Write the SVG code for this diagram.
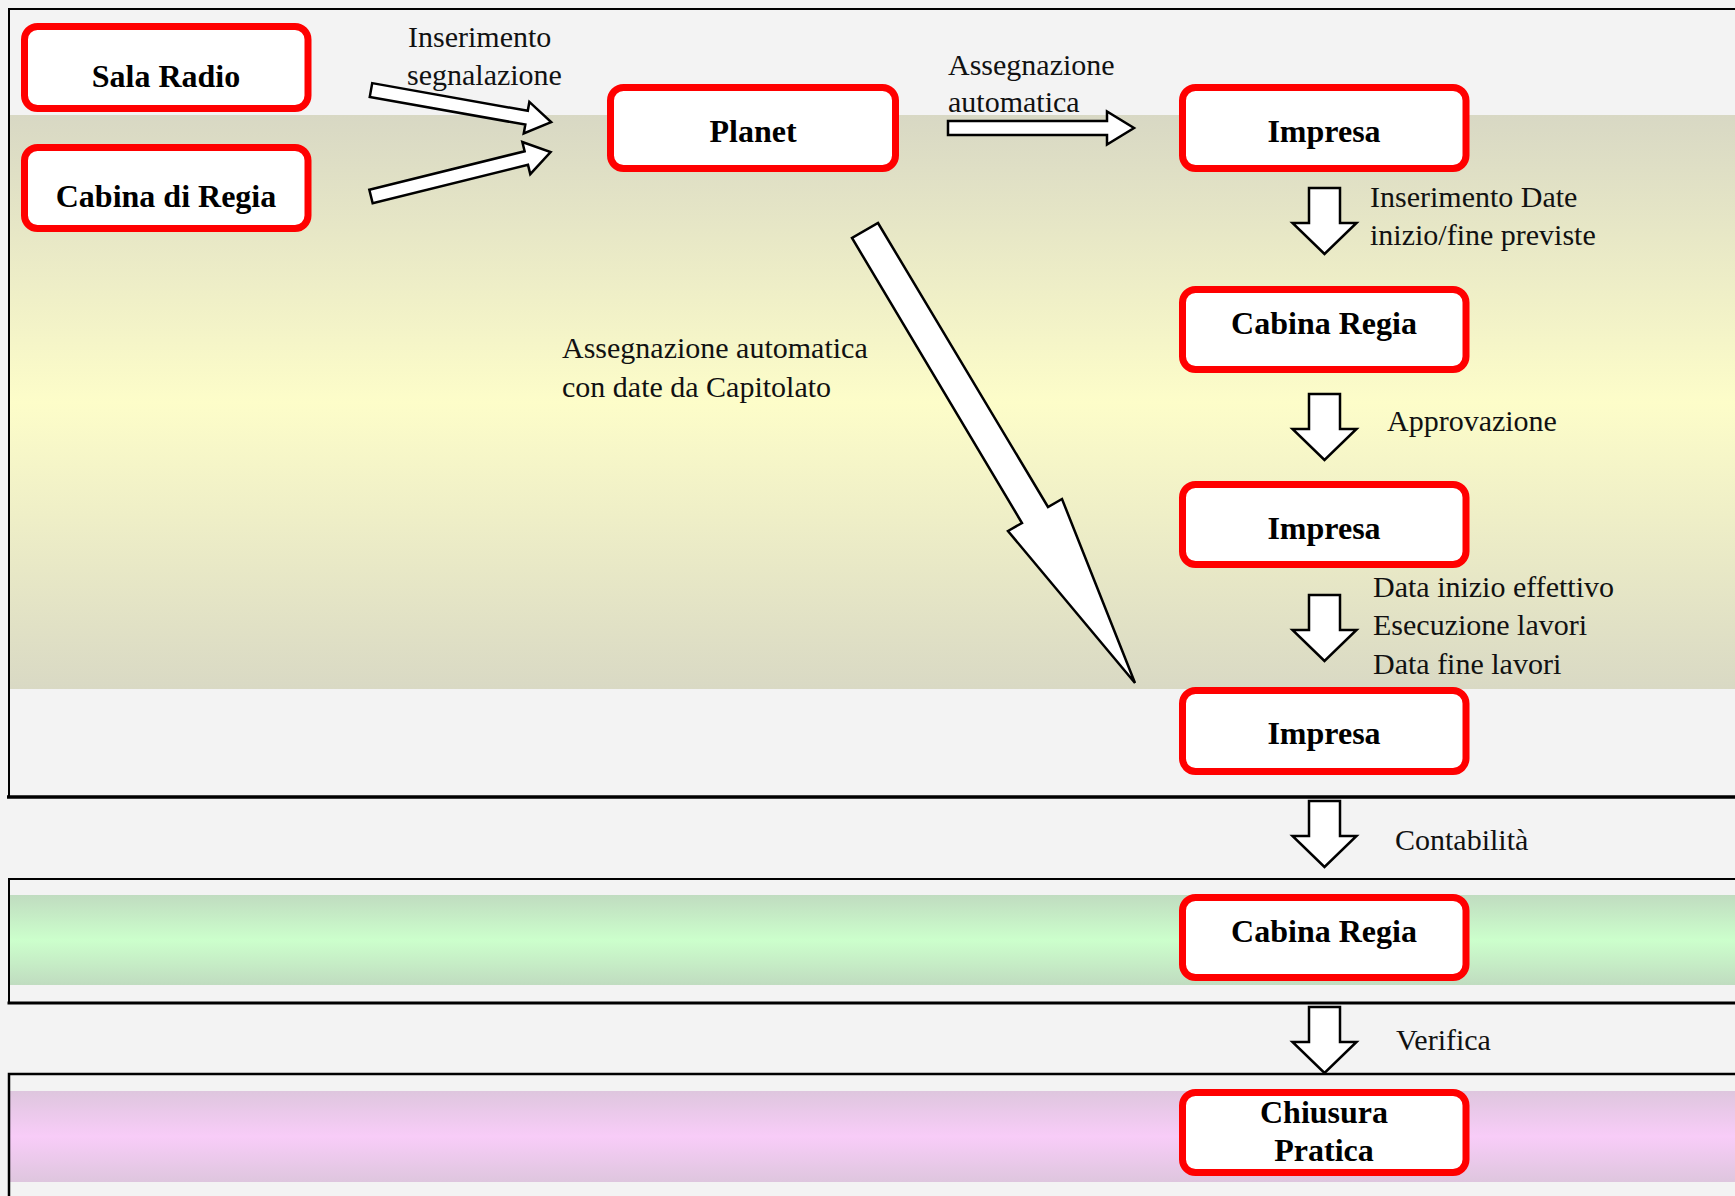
<svg xmlns="http://www.w3.org/2000/svg" xmlns:xlink="http://www.w3.org/1999/xlink" width="1735" height="1196" viewBox="0 0 1735 1196">
<defs>
<style>
.box{fill:#ffffff;stroke:#ff0000;stroke-width:7}
.bt{font-family:"Liberation Serif","DejaVu Serif",serif;font-weight:bold;font-size:32px;fill:#000;text-anchor:middle}
.lt{font-family:"Liberation Serif","DejaVu Serif",serif;font-size:30px;fill:#111}
.arr{fill:#ffffff;stroke:#000;stroke-width:2.5;stroke-linejoin:miter}
.frame{fill:none;stroke:#000}
</style>
<linearGradient id="olive" x1="0" y1="0" x2="0" y2="1">
<stop offset="0" stop-color="#d8d8c4"/>
<stop offset="0.5" stop-color="#fdfdc9"/>
<stop offset="1" stop-color="#d9d9c4"/>
</linearGradient>
<linearGradient id="green" x1="0" y1="0" x2="0" y2="1">
<stop offset="0" stop-color="#c0dcc0"/>
<stop offset="0.5" stop-color="#ccffcc"/>
<stop offset="1" stop-color="#c0dcc0"/>
</linearGradient>
<linearGradient id="pink" x1="0" y1="0" x2="0" y2="1">
<stop offset="0" stop-color="#dec6de"/>
<stop offset="0.5" stop-color="#f8ccf8"/>
<stop offset="1" stop-color="#dec6de"/>
</linearGradient>
<path id="down" d="M-15.5,0 H15.5 V35 H32 L0,66 L-32,35 H-15.5 Z"/>
</defs>

<g id="background">
<rect x="0" y="0" width="1735" height="1196" fill="#f3f3f3"/>
<rect x="10" y="115" width="1725" height="574" fill="url(#olive)"/>
<rect x="10" y="895" width="1725" height="90" fill="url(#green)"/>
<rect x="10" y="1091" width="1725" height="91" fill="url(#pink)"/>
</g>

<g id="frames">
<path class="frame" stroke-width="2" d="M1740,9 H9 V797"/>
<line class="frame" stroke-width="3.5" x1="7" y1="797" x2="1740" y2="797"/>
<path class="frame" stroke-width="2" d="M1740,879 H9 V1003"/>
<line class="frame" stroke-width="3" x1="7.5" y1="1003" x2="1740" y2="1003"/>
<path class="frame" stroke-width="2.5" d="M1740,1074 H9 V1200"/>
</g>

<g id="connectors">
<g transform="translate(371,90) rotate(10.1)"><polygon class="arr" points="0,-7 158,-7 158,-16 183,0 158,16 158,7 0,7"/></g>
<g transform="translate(371,196.5) rotate(-13.9)"><polygon class="arr" points="0,-7 160,-7 160,-16.5 185,0 160,16.5 160,7 0,7"/></g>
<polygon class="arr" points="948,121 1107,121 1107,111.5 1134,128 1107,144.5 1107,135 948,135"/>
<polygon class="arr" points="878,223 1048,507 1062,499 1135,683 1008,531 1022,523 852,238"/>
<use class="arr" xlink:href="#down" href="#down" x="1324.5" y="188"/>
<use class="arr" xlink:href="#down" href="#down" x="1324.5" y="394"/>
<use class="arr" xlink:href="#down" href="#down" x="1324.5" y="595"/>
<use class="arr" xlink:href="#down" href="#down" x="1324.5" y="801"/>
<use class="arr" xlink:href="#down" href="#down" x="1324.5" y="1007"/>
</g>

<g id="labels">
<text class="lt" x="408" y="47">Inserimento</text>
<text class="lt" x="407" y="85">segnalazione</text>
<text class="lt" x="948" y="75">Assegnazione</text>
<text class="lt" x="948" y="112">automatica</text>
<text class="lt" x="1370" y="207">Inserimento Date</text>
<text class="lt" x="1370" y="245">inizio/fine previste</text>
<text class="lt" x="1387" y="431">Approvazione</text>
<text class="lt" x="1373" y="597">Data inizio effettivo</text>
<text class="lt" x="1373" y="635">Esecuzione lavori</text>
<text class="lt" x="1373" y="674">Data fine lavori</text>
<text class="lt" x="562" y="358">Assegnazione automatica</text>
<text class="lt" x="562" y="397">con date da Capitolato</text>
<text class="lt" x="1395" y="850">Contabilità</text>
<text class="lt" x="1396" y="1050">Verifica</text>
</g>

<g id="sala-radio"><rect class="box" x="24.5" y="26.5" width="283.5" height="82" rx="13"/><text class="bt" x="166" y="87">Sala Radio</text></g>
<g id="cabina-di-regia"><rect class="box" x="24.5" y="147.5" width="283.5" height="81" rx="13"/><text class="bt" x="166" y="207">Cabina di Regia</text></g>
<g id="planet"><rect class="box" x="610.5" y="87.5" width="285" height="81" rx="13"/><text class="bt" x="753" y="142">Planet</text></g>
<g id="impresa-1"><rect class="box" x="1182.5" y="87.5" width="283.5" height="81" rx="13"/><text class="bt" x="1324" y="142">Impresa</text></g>
<g id="cabina-regia-1"><rect class="box" x="1182.5" y="289.5" width="283.5" height="80" rx="13"/><text class="bt" x="1324" y="334">Cabina Regia</text></g>
<g id="impresa-2"><rect class="box" x="1182.5" y="484.5" width="283.5" height="80" rx="13"/><text class="bt" x="1324" y="539">Impresa</text></g>
<g id="impresa-3"><rect class="box" x="1182.5" y="690.5" width="283.5" height="81" rx="13"/><text class="bt" x="1324" y="744">Impresa</text></g>
<g id="cabina-regia-2"><rect class="box" x="1182.5" y="897.5" width="283.5" height="80" rx="13"/><text class="bt" x="1324" y="942">Cabina Regia</text></g>
<g id="chiusura-pratica"><rect class="box" x="1182.5" y="1092.5" width="283.5" height="80" rx="13"/><text class="bt" x="1324" y="1123">Chiusura</text><text class="bt" x="1324" y="1161">Pratica</text></g>
</svg>
